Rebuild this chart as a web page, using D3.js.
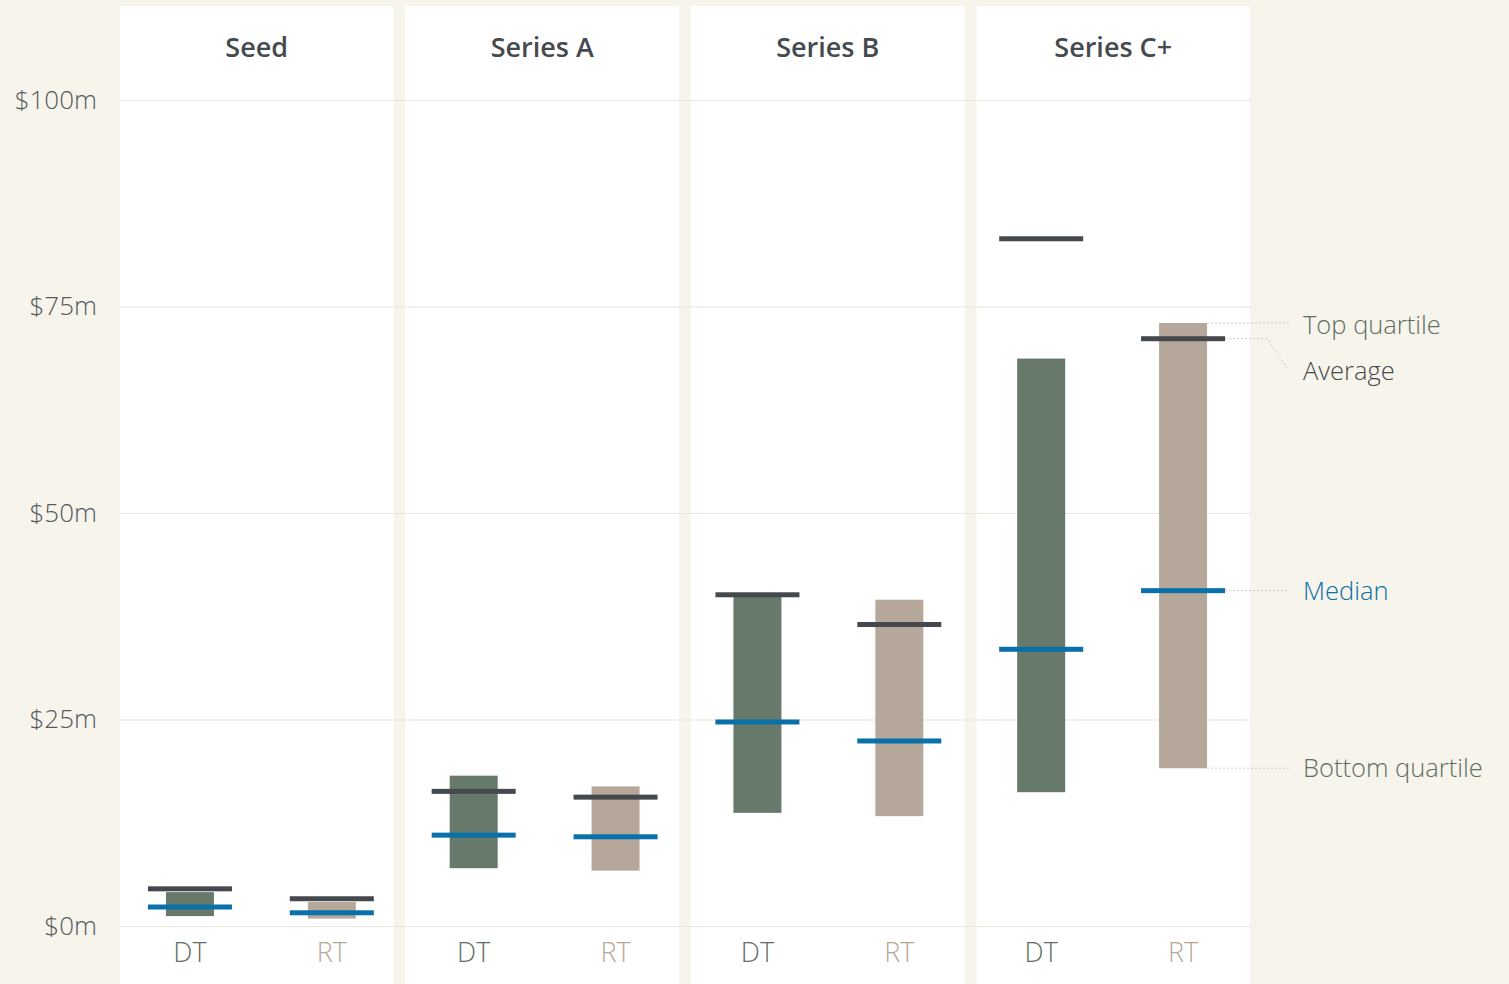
<!DOCTYPE html>
<html>
<head>
<meta charset="utf-8">
<script src="https://cdn.jsdelivr.net/npm/d3@7"></script>
<style>
  body { margin: 0; background: #f7f4ec; }
  svg { display: block; font-family: "Open Sans", "Noto Sans", sans-serif; }
</style>
</head>
<body>
<div id="chart"></div>
<script>
// funding stages and investor types
var stages = ["Seed", "Series A", "Series B", "Series C+"];
var types = ["DT", "RT"];

// values in $m, [DT, RT] for each stage
var topQuartile    = [[4.1, 2.9], [18.2, 16.9], [40.3, 39.5], [68.7, 73.0]];
var bottomQuartile = [[1.2, 0.9], [7.0, 6.7], [13.7, 13.3], [16.2, 19.1]];
var average        = [[4.5, 3.3], [16.3, 15.6], [40.1, 36.5], [83.2, 71.1]];
var median         = [[2.3, 1.6], [11.0, 10.8], [24.7, 22.4], [33.5, 40.6]];

var yTicks = [0, 25, 50, 75, 100];

var width = 1509, height = 984;
var colors = { DT: "#66796a", RT: "#b5a89a" };
var labelColors = { DT: "#5f6e62", RT: "#b5a89a" };

// flatten into rows
var data = [];
stages.forEach(function (s, i) {
    types.forEach(function (t, j) {
        data.push({
            key: s + "|" + t, stage: s, type: t,
            tq: topQuartile[i][j], bq: bottomQuartile[i][j],
            avg: average[i][j], med: median[i][j]
        });
    });
});

var svg = d3.select("#chart")
    .append("svg")
    .attr("width", width)
    .attr("height", height);

svg.append("rect")
    .attr("width", width)
    .attr("height", height)
    .attr("fill", "#f7f4ec");

// scales
var x = d3.scaleBand()
    .domain(stages)
    .range([120, 1250])
    .paddingInner(0.042)
    .paddingOuter(0)
    .align(0);

// one slot per stage/type pair
var xs = d3.scaleBand()
    .domain(data.map(function (d) { return d.key; }))
    .range([119, 1254]);

var y = d3.scaleLinear()
    .domain([0, 100])
    .range([926, 100]);

function cx(d) { return xs(d.key) + xs.bandwidth() / 2; }

// panels
svg.selectAll(".panel")
    .data(stages)
    .enter()
    .append("rect")
    .attr("x", function (d) { return x(d); })
    .attr("y", 6)
    .attr("width", x.bandwidth())
    .attr("height", height)
    .attr("fill", "#ffffff");

// gridlines
svg.append("g")
    .selectAll("line")
    .data(yTicks)
    .enter()
    .append("line")
    .attr("x1", 118)
    .attr("x2", 1252)
    .attr("y1", function (d) { return y(d) + 0.5; })
    .attr("y2", function (d) { return y(d) + 0.5; })
    .attr("stroke", "#ebe6dc")
    .attr("stroke-width", 1.2);

// y axis labels
var yAxis = svg.append("g")
    .attr("transform", "translate(97,0)")
    .call(d3.axisLeft(y).tickValues(yTicks).tickSize(0).tickPadding(0)
        .tickFormat(function (d) { return "$" + d + "m"; }));
yAxis.select(".domain").remove();
yAxis.selectAll("text")
    .style("font-family", "'Open Sans', sans-serif")
    .style("font-weight", 300)
    .style("font-size", "26px")
    .attr("fill", "#555a5e");

// panel titles
svg.selectAll(".title")
    .data(stages)
    .enter()
    .append("text")
    .attr("x", function (d) { return x(d) + x.bandwidth() / 2; })
    .attr("y", 48)
    .attr("dy", "0.35em")
    .attr("text-anchor", "middle")
    .style("font-size", "27px")
    .style("font-weight", 600)
    .attr("fill", "#454a4f")
    .text(function (d) { return d; });

// bottom labels
svg.selectAll(".typeLabel")
    .data(data)
    .enter()
    .append("text")
    .attr("x", cx)
    .attr("y", 953)
    .attr("dy", "0.35em")
    .attr("text-anchor", "middle")
    .style("font-size", "27px")
    .style("font-weight", 300)
    .attr("fill", function (d) { return labelColors[d.type]; })
    .text(function (d) { return d.type; });

var barW = 48, lineW = 84, lineH = 5;

// interquartile bars
svg.selectAll(".bar")
    .data(data)
    .enter()
    .append("rect")
    .attr("x", function (d) { return cx(d) - barW / 2; })
    .attr("y", function (d) { return y(d.tq); })
    .attr("width", barW)
    .attr("height", function (d) { return y(d.bq) - y(d.tq); })
    .attr("fill", function (d) { return colors[d.type]; });

// average lines
svg.selectAll(".avg")
    .data(data)
    .enter()
    .append("rect")
    .attr("x", function (d) { return cx(d) - lineW / 2; })
    .attr("y", function (d) { return y(d.avg) - lineH / 2; })
    .attr("width", lineW)
    .attr("height", lineH)
    .attr("fill", "#45494d");

// median lines
svg.selectAll(".med")
    .data(data)
    .enter()
    .append("rect")
    .attr("x", function (d) { return cx(d) - lineW / 2; })
    .attr("y", function (d) { return y(d.med) - lineH / 2; })
    .attr("width", lineW)
    .attr("height", lineH)
    .attr("fill", "#0a70a9");

// annotations on the last bar
var last = data[data.length - 1];
var lx = cx(last);
var endX = 1289, textX = 1303;
var leader = svg.append("g")
    .attr("fill", "none")
    .attr("stroke", "#cfc7bb")
    .attr("stroke-width", 1)
    .attr("stroke-dasharray", "2,2");

leader.append("path")
    .attr("d", "M" + (lx + barW / 2) + "," + y(last.tq) + "H" + endX);
leader.append("path")
    .attr("d", "M" + (lx + lineW / 2) + "," + y(last.avg) + "H" + 1267 + "L" + endX + "," + (y(last.avg) + 32));
leader.append("path")
    .attr("d", "M" + (lx + lineW / 2) + "," + y(last.med) + "H" + endX);
leader.append("path")
    .attr("d", "M" + (lx + barW / 2) + "," + y(last.bq) + "H" + endX);

var notes = [
    { text: "Top quartile", y: y(last.tq) + 2, color: "#5f6e62" },
    { text: "Average", y: y(last.avg) + 32, color: "#454a4f" },
    { text: "Median", y: y(last.med), color: "#0a70a9" },
    { text: "Bottom quartile", y: y(last.bq), color: "#5f6e62" }
];

svg.selectAll(".note")
    .data(notes)
    .enter()
    .append("text")
    .attr("x", textX)
    .attr("y", function (d) { return d.y; })
    .attr("dy", "0.35em")
    .style("font-size", "25.5px")
    .style("font-weight", 300)
    .attr("fill", function (d) { return d.color; })
    .text(function (d) { return d.text; });
</script>
</body>
</html>
